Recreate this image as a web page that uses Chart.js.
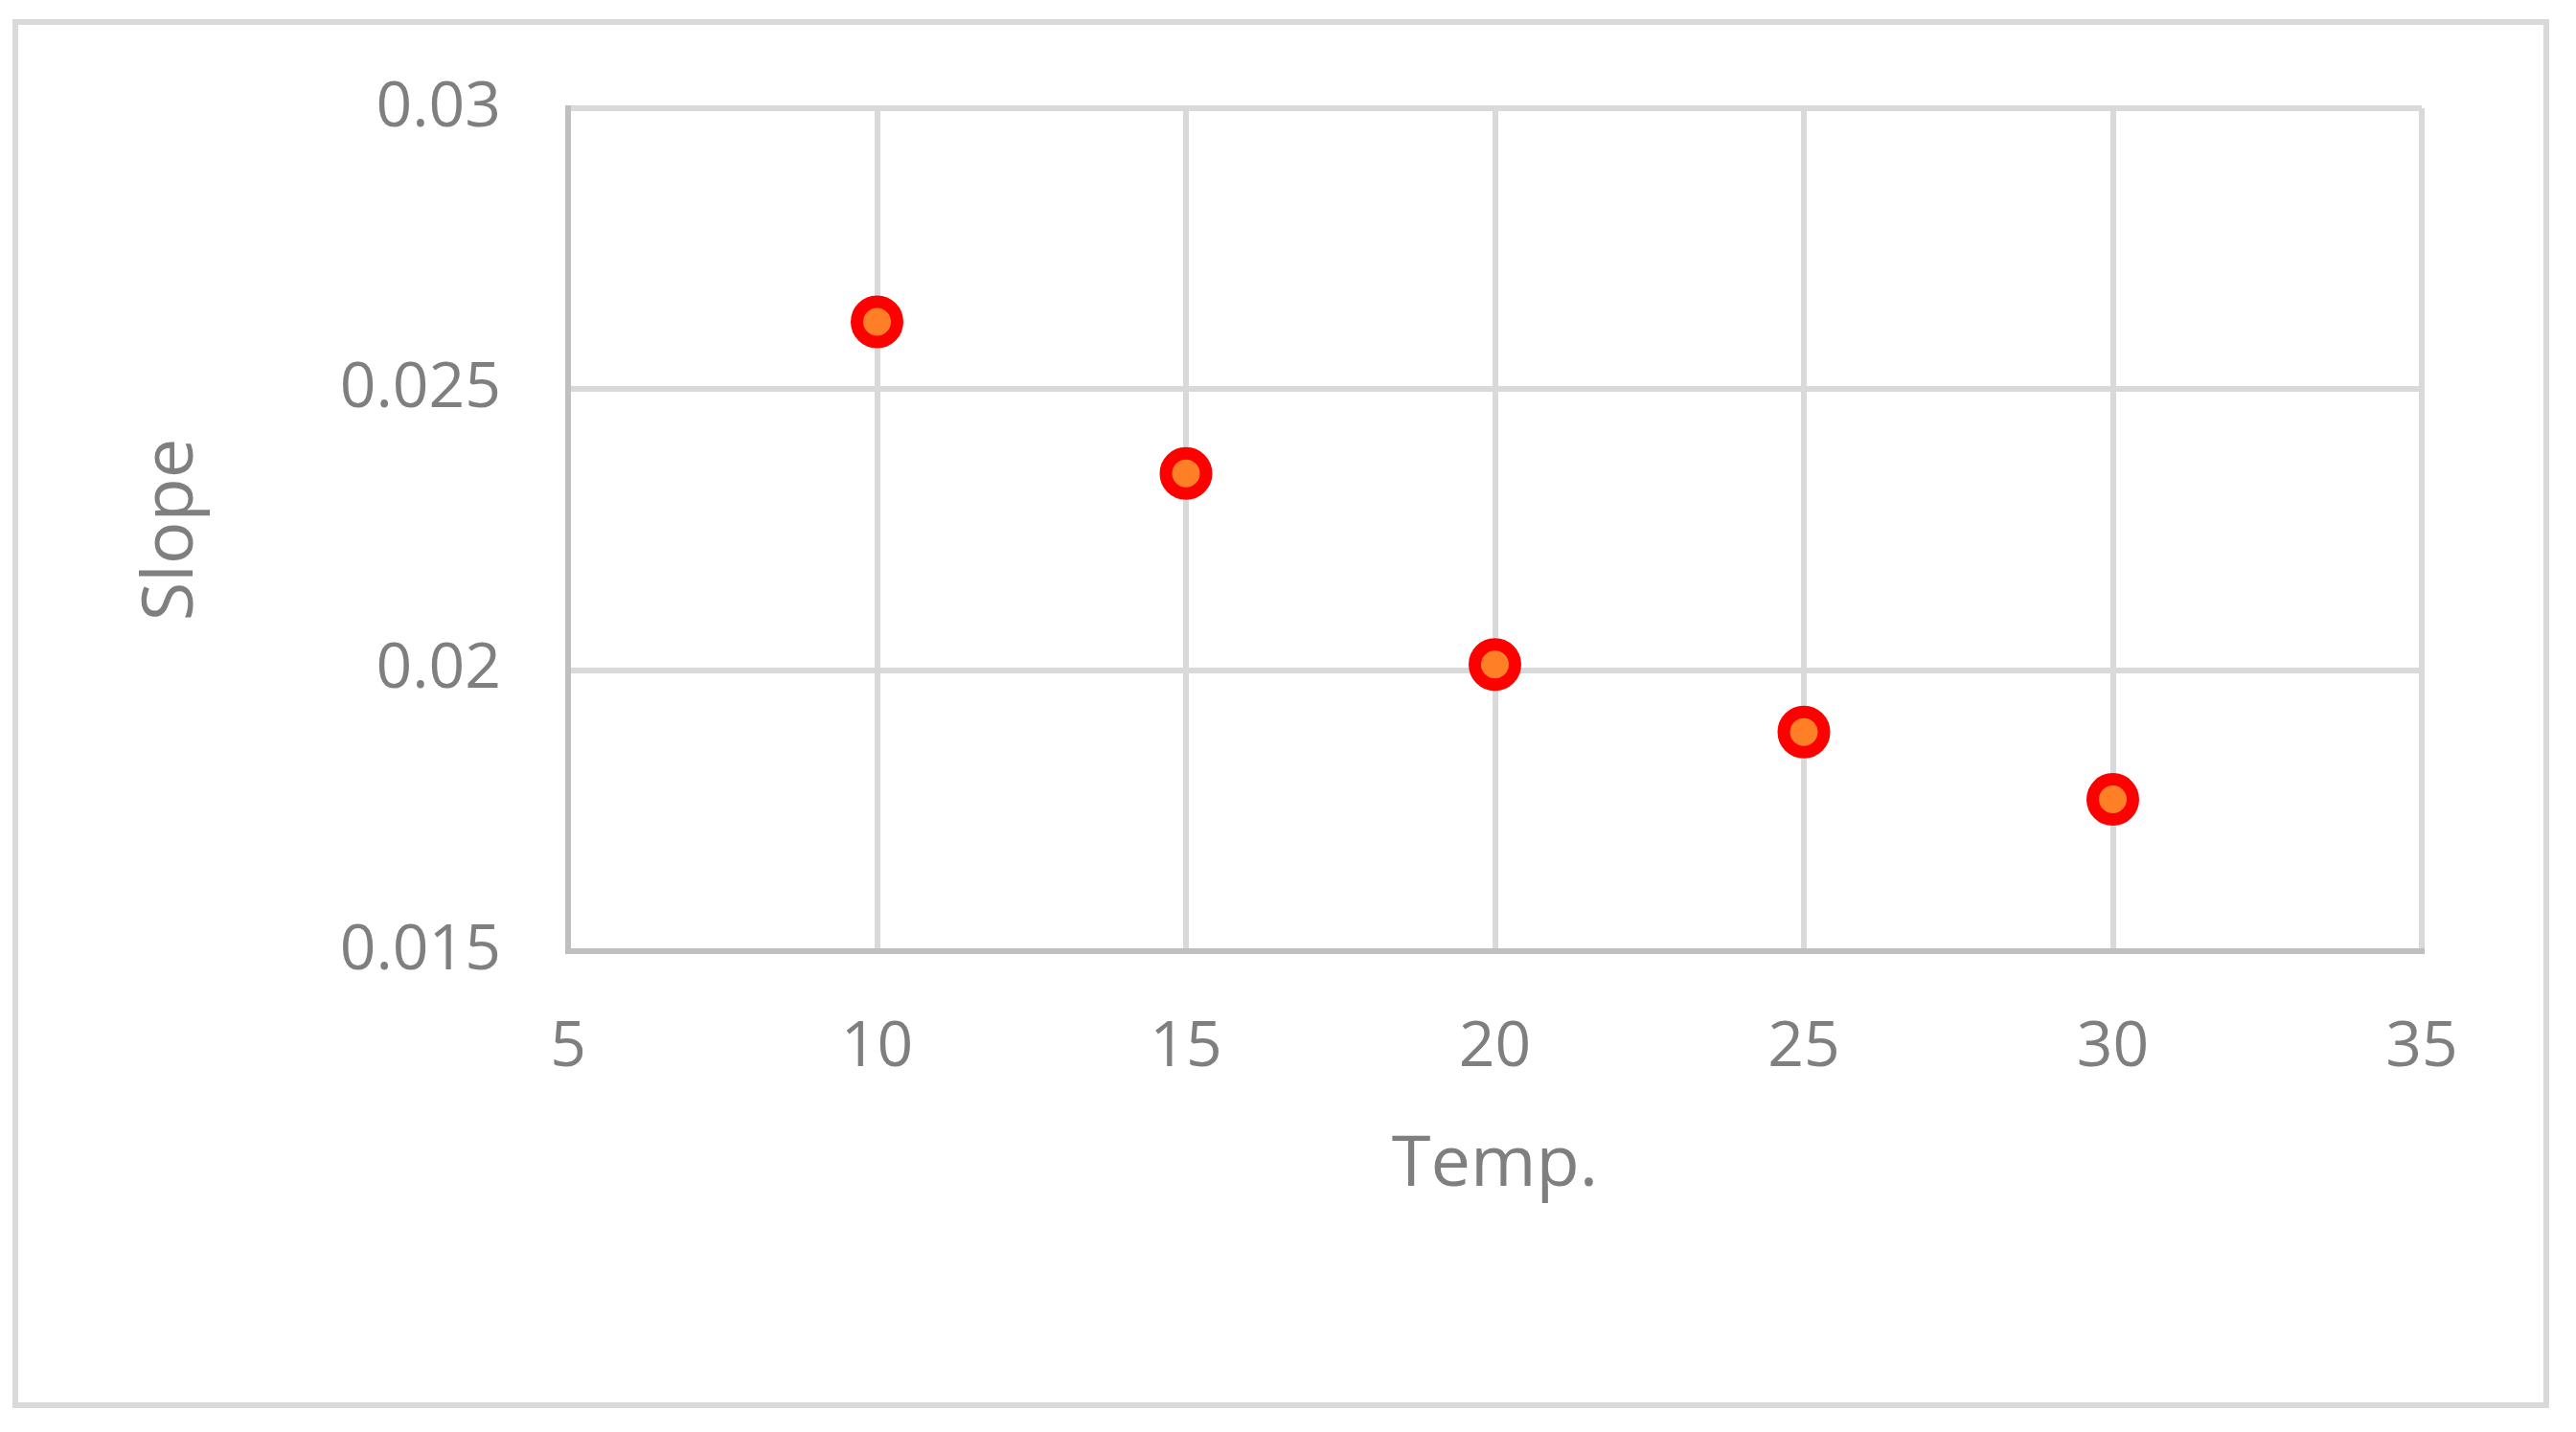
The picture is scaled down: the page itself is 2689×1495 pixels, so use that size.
<!DOCTYPE html>
<html>
<head>
<meta charset="utf-8">
<script src="https://cdn.jsdelivr.net/npm/chart.js@4/dist/chart.umd.min.js"></script>
<style>
  html, body { margin: 0; padding: 0; background: #ffffff; }
  #frame {
    position: absolute; left: 13px; top: 20px;
    width: 2648px; height: 1450px;
    box-sizing: border-box; border: 6px solid #d9d9d9; background: #fff;
  }
  #slopeChart { display: block; }
</style>
</head>
<body>
<div id="frame"><canvas id="slopeChart" width="2636" height="1438"></canvas></div>
<script>
// Data
const temps = [10, 15, 20, 25, 30];
const slopes = [0.0262, 0.0235, 0.0201, 0.0189, 0.0177];

// Tick labels
const xTickLabels = ['5', '10', '15', '20', '25', '30', '35'];
const yTickLabels = ['0.015', '0.02', '0.025', '0.03'];

const gray = '#7f7f7f';
const fontFamily = "'Open Sans', 'Noto Sans', sans-serif";

const ctx = document.getElementById('slopeChart').getContext('2d');

new Chart(ctx, {
    type: 'scatter',
    data: {
        datasets: [{
            label: 'Slope',
            data: temps.map((t, i) => ({ x: t, y: slopes[i] })),
            backgroundColor: '#ff7f27',
            borderColor: '#ff0000',
            borderWidth: 13,
            pointRadius: 21,
            pointHoverRadius: 21
        }]
    },
    options: {
        responsive: false,
        animation: false,
        layout: {
            padding: { left: 117, top: 87, right: 127, bottom: 203 }
        },
        plugins: {
            legend: { display: false },
            tooltip: { enabled: false }
        },
        scales: {
            x: {
                type: 'linear',
                min: 5,
                max: 35,
                ticks: {
                    stepSize: 5,
                    color: gray,
                    font: { family: fontFamily, size: 66 },
                    padding: 62,
                    callback: (v, i) => xTickLabels[i]
                },
                grid: { color: '#d9d9d9', lineWidth: 6, drawTicks: false },
                border: { color: '#bfbfbf', width: 6 },
                title: {
                    display: true,
                    text: 'Temp.',
                    color: gray,
                    font: { family: fontFamily, size: 74 },
                    padding: 0
                },
                afterFit: (scale) => {
                    scale.height = 268;
                    scale.paddingLeft = 0;
                    scale.paddingRight = 0;
                }
            },
            y: {
                type: 'linear',
                min: 0.015,
                max: 0.03,
                ticks: {
                    stepSize: 0.005,
                    color: gray,
                    font: { family: fontFamily, size: 66 },
                    padding: 70,
                    callback: (v, i) => yTickLabels[i]
                },
                grid: { color: '#d9d9d9', lineWidth: 6, drawTicks: false },
                border: { color: '#bfbfbf', width: 6 },
                title: {
                    display: true,
                    text: 'Slope',
                    color: gray,
                    font: { family: fontFamily, size: 74 },
                    padding: 0
                },
                afterFit: (scale) => {
                    scale.width = 457;
                    scale.paddingTop = 0;
                    scale.paddingBottom = 0;
                }
            }
        }
    }
});
</script>
</body>
</html>
